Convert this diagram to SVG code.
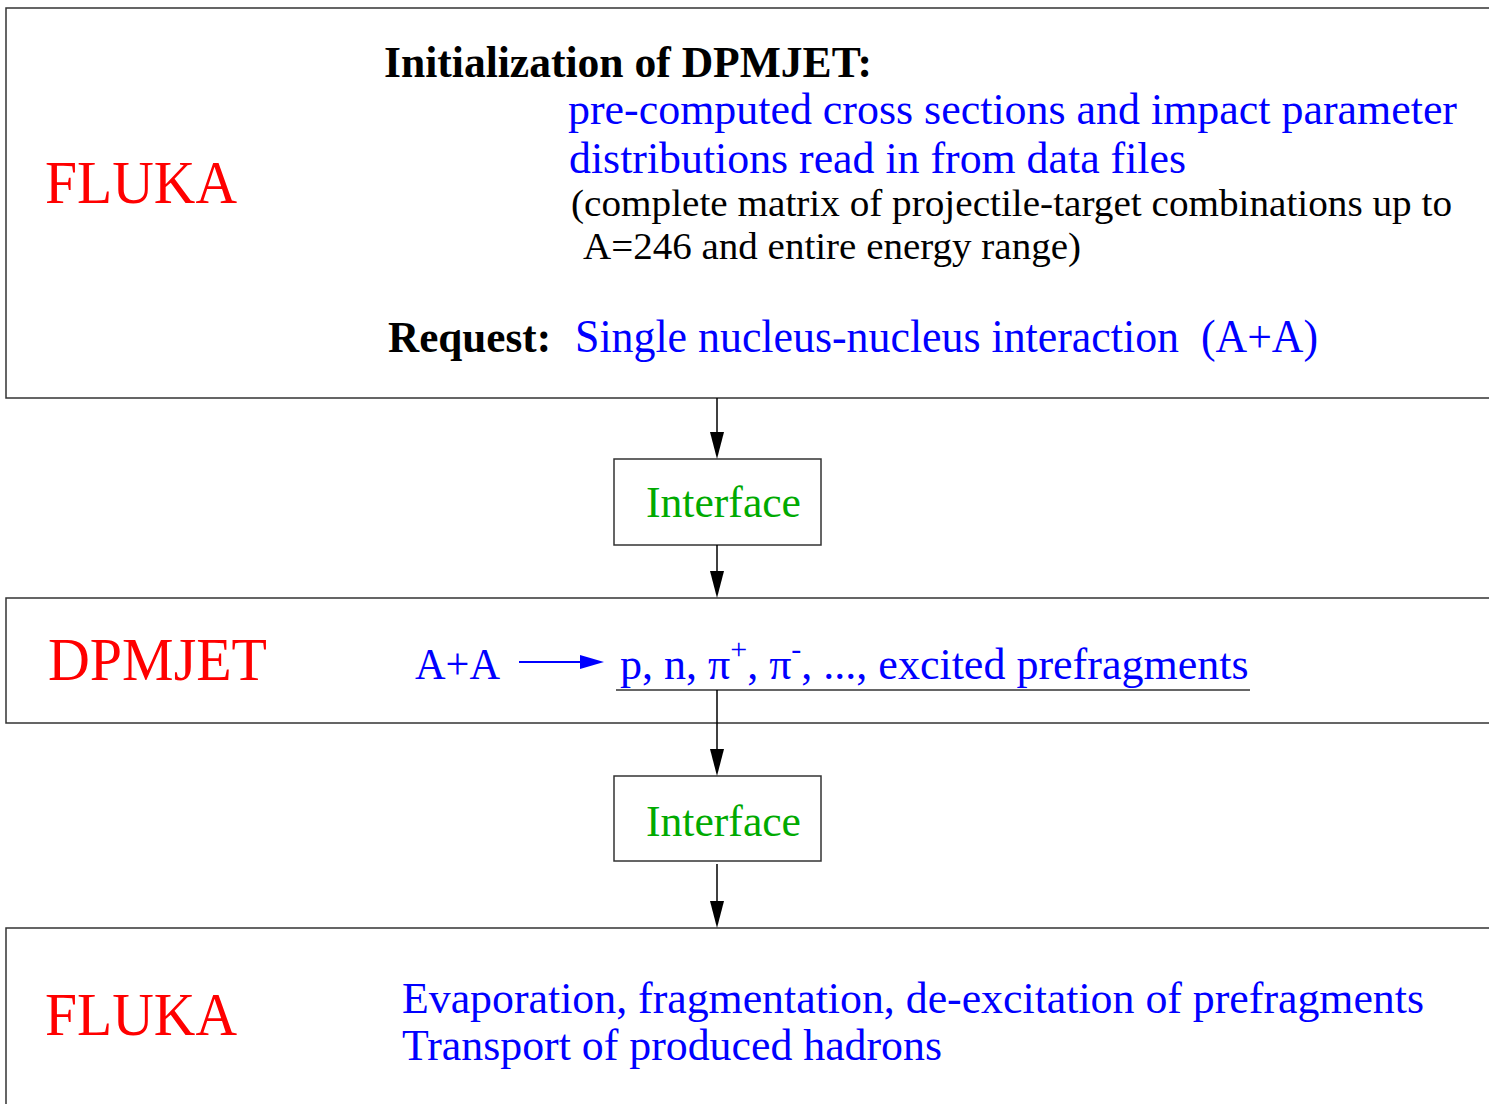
<svg xmlns="http://www.w3.org/2000/svg" width="1489" height="1104" viewBox="0 0 1489 1104">
<style>
.box{fill:#fff;stroke:#333;stroke-width:1.5}
.t{font-family:"Liberation Serif","Times New Roman",serif}
.red{fill:#ff0000}
.blue{fill:#0000ff}
.green{fill:#00aa00}
.blk{fill:#000}
.b{font-weight:bold}
.c{stroke:#000;stroke-width:1.5;fill:none}
</style>
<rect width="1489" height="1104" fill="#fff"/>
<g id="fluka-top">
<rect class="box" x="6" y="8" width="1490" height="390"/>
<text class="t red" x="45" y="203" font-size="62" textLength="192" lengthAdjust="spacingAndGlyphs">FLUKA</text>
<text class="t blk b" x="384" y="77" font-size="44" textLength="488" lengthAdjust="spacingAndGlyphs">Initialization of DPMJET:</text>
<text class="t blue" x="568" y="124" font-size="44" textLength="889" lengthAdjust="spacingAndGlyphs">pre-computed cross sections and impact parameter</text>
<text class="t blue" x="569" y="173" font-size="44" textLength="617" lengthAdjust="spacingAndGlyphs">distributions read in from data files</text>
<text class="t blk" x="571" y="216" font-size="38" textLength="881" lengthAdjust="spacingAndGlyphs">(complete matrix of projectile-target combinations up to</text>
<text class="t blk" x="583" y="259" font-size="38" textLength="498" lengthAdjust="spacingAndGlyphs">A=246 and entire energy range)</text>
<text class="t blk b" x="388" y="352" font-size="44" textLength="163" lengthAdjust="spacingAndGlyphs">Request:</text>
<text class="t blue" x="575" y="352" font-size="46" textLength="604" lengthAdjust="spacingAndGlyphs">Single nucleus-nucleus interaction</text>
<text class="t blue" x="1201" y="352" font-size="46" textLength="117" lengthAdjust="spacingAndGlyphs">(A+A)</text>
</g>
<g id="interface1">
<rect class="box" x="614" y="459" width="207" height="86"/>
<text class="t green" x="646" y="517" font-size="44" textLength="155" lengthAdjust="spacingAndGlyphs">Interface</text>
</g>
<g id="dpmjet">
<rect class="box" x="6" y="598" width="1490" height="125"/>
<text class="t red" x="48" y="680" font-size="62" textLength="219" lengthAdjust="spacingAndGlyphs">DPMJET</text>
<text class="t blue" x="415" y="679" font-size="44" textLength="85" lengthAdjust="spacingAndGlyphs">A+A</text>
<line x1="519" y1="662" x2="582" y2="662" stroke="#0000ff" stroke-width="2"/>
<path d="M580,655 L604,662 L580,669 Z" fill="#0000ff"/>
<text class="t blue" x="620" y="679" font-size="44">p, n, π<tspan font-size="30" dy="-20">+</tspan><tspan dy="20">, π</tspan><tspan font-size="30" dy="-20">-</tspan><tspan dy="20">, ..., excited prefragments</tspan></text>
<line x1="616" y1="690" x2="1250" y2="690" stroke="#333" stroke-width="1.5"/>
</g>
<g id="interface2">
<rect class="box" x="614" y="776" width="207" height="85"/>
<text class="t green" x="646" y="836" font-size="44" textLength="155" lengthAdjust="spacingAndGlyphs">Interface</text>
</g>
<g id="fluka-bottom">
<rect class="box" x="6" y="928" width="1490" height="200"/>
<text class="t red" x="45" y="1035" font-size="62" textLength="192" lengthAdjust="spacingAndGlyphs">FLUKA</text>
<text class="t blue" x="402" y="1013" font-size="44" textLength="1022" lengthAdjust="spacingAndGlyphs">Evaporation, fragmentation, de-excitation of prefragments</text>
<text class="t blue" x="402" y="1060" font-size="44" textLength="540" lengthAdjust="spacingAndGlyphs">Transport of produced hadrons</text>
</g>
<g id="connectors">
<line class="c" x1="717" y1="398" x2="717" y2="432"/>
<path d="M710,432 L724,432 L717,459 Z" fill="#000"/>
<line class="c" x1="717" y1="545" x2="717" y2="571"/>
<path d="M710,571 L724,571 L717,598 Z" fill="#000"/>
<line class="c" x1="717" y1="690" x2="717" y2="749"/>
<path d="M710,749 L724,749 L717,776 Z" fill="#000"/>
<line class="c" x1="717" y1="864" x2="717" y2="901"/>
<path d="M710,901 L724,901 L717,928 Z" fill="#000"/>
</g>
</svg>
